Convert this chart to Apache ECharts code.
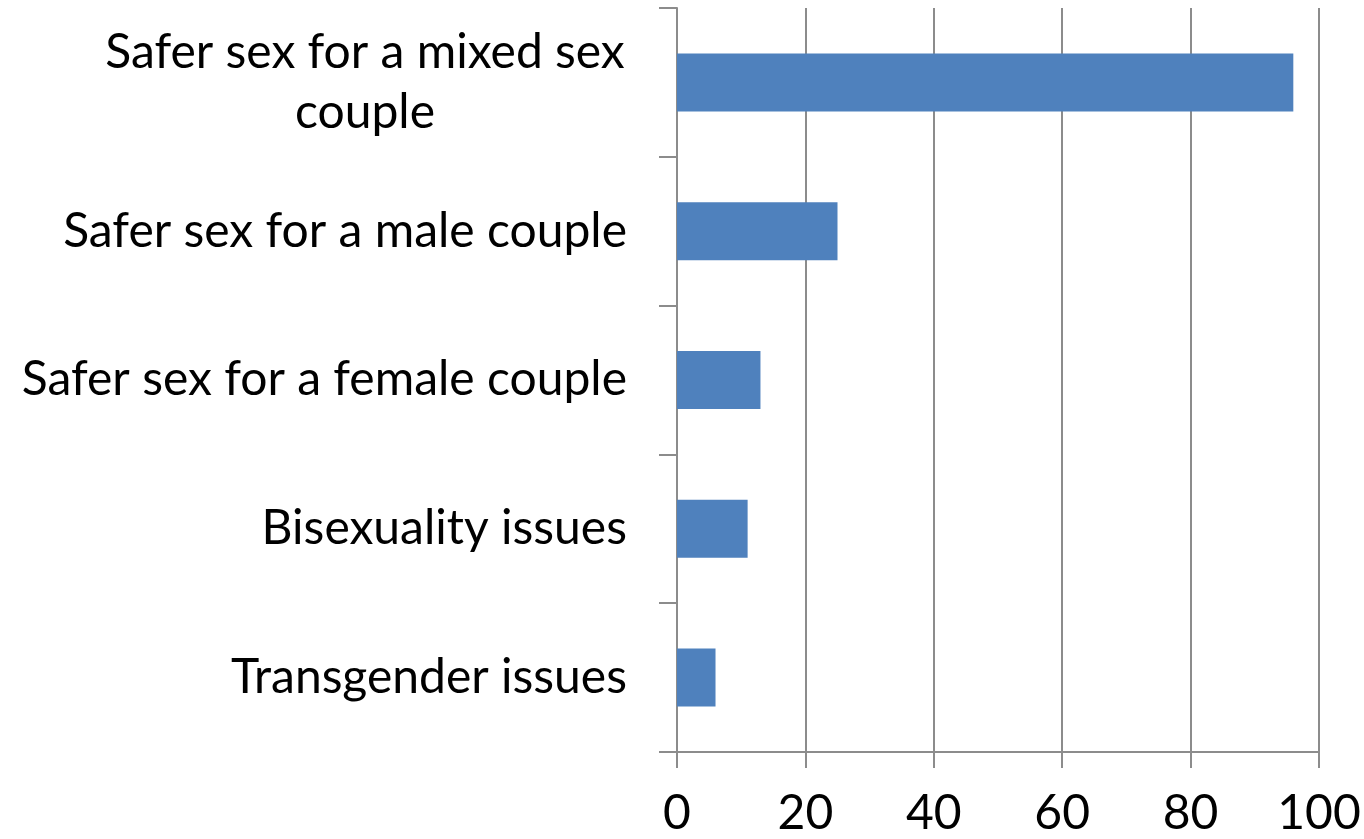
<!DOCTYPE html>
<html>
	<head>
		<meta charset="utf-8">
		<title></title>
		<style type="text/css">
			* {
				margin: 0;
				padding: 0;
			}

			html,
			body {
				width: 100%;
				height: 100%;
				background: #fff;
			}

			#main {
				width: 1364px;
				height: 839px;
			}
		</style>
	</head>
	<body>
		<div id="main"></div>
		<script src="https://cdn.jsdelivr.net/npm/echarts@6/dist/echarts.min.js"></script>
		<script>
			var categories = ['Safer sex for a mixed sex couple', 'Safer sex for a male couple', 'Safer sex for a female couple', 'Bisexuality issues', 'Transgender issues']
			var values = [96, 25, 13, 11, 6]
			var xTicks = [0, 20, 40, 60, 80, 100]

			window.onload = function() {
				charts1()
			}

			function charts1() {
				var myChart = echarts.init(document.getElementById('main'));
				var option = {
					animation: false,
					textStyle: {
						fontFamily: 'Lato'
					},
					grid: {
						left: 677,
						right: 45,
						top: 8,
						bottom: 87
					},
					xAxis: {
						type: 'value',
						min: xTicks[0],
						max: xTicks[xTicks.length - 1],
						interval: 20,
						axisLine: {
							show: true,
							lineStyle: { color: '#8c8c8c', width: 2 }
						},
						axisTick: {
							show: true,
							length: 16,
							lineStyle: { color: '#8c8c8c', width: 2 }
						},
						splitLine: {
							show: true,
							lineStyle: { color: '#8c8c8c', width: 2 }
						},
						axisLabel: {
							margin: 38,
							fontSize: 48,
							color: '#000',
							fontFamily: 'Lato'
						}
					},
					yAxis: {
						type: 'category',
						inverse: true,
						data: categories,
						axisLine: {
							show: true,
							lineStyle: { color: '#8c8c8c', width: 2 }
						},
						axisTick: {
							show: true,
							length: 18,
							lineStyle: { color: '#8c8c8c', width: 2 }
						},
						axisLabel: {
							margin: 50,
							fontSize: 48,
							color: '#000',
							lineHeight: 60,
							fontFamily: 'Lato',
							formatter: function(v) {
								if (v == categories[0]) {
									return '{c|Safer sex for a mixed sex}\n{c|couple}'
								}
								return v
							},
							rich: {
								c: {
									width: 524,
									align: 'center',
									fontSize: 48,
									lineHeight: 60,
									color: '#000',
									fontFamily: 'Lato'
								}
							}
						}
					},
					series: [{
						type: 'bar',
						data: values,
						barWidth: '39%',
						itemStyle: {
							color: '#4f81bd'
						}
					}]
				};
				myChart.setOption(option);
			}
		</script>
	</body>
</html>
